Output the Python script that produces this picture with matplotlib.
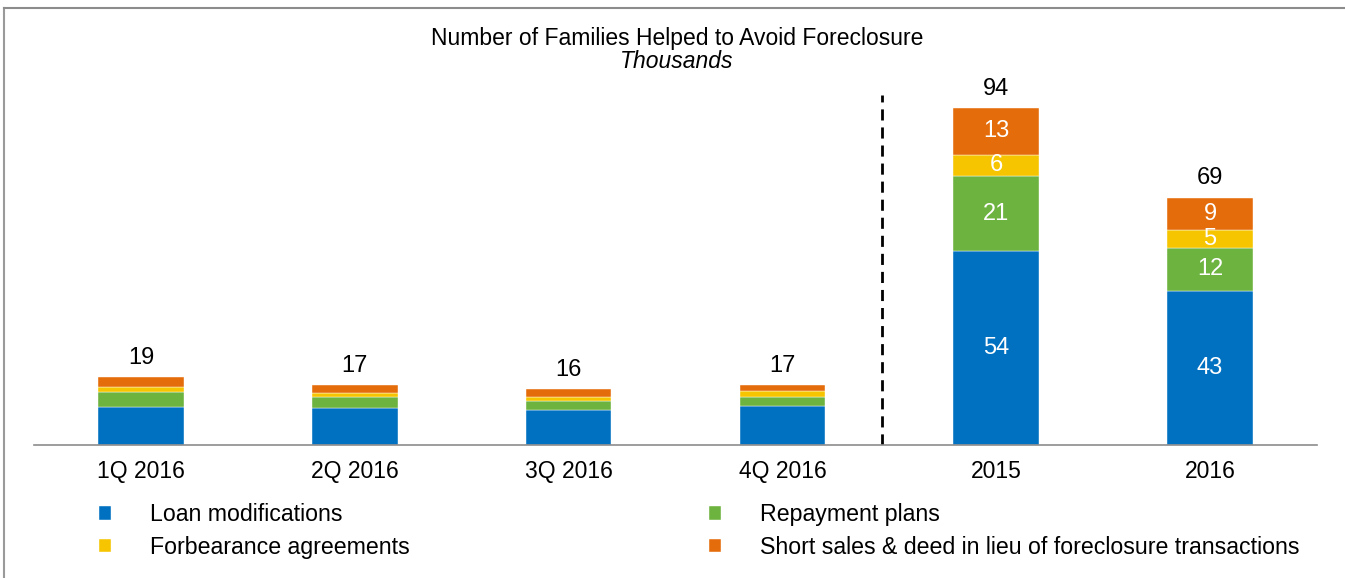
import numpy as np
import matplotlib
import matplotlib.pyplot as plt
from matplotlib.lines import Line2D
matplotlib.use('Agg')

plt.rcParams['font.family'] = ['Liberation Sans', 'DejaVu Sans']

periods = ['1Q 2016', '2Q 2016', '3Q 2016', '4Q 2016', '2015', '2016']
loan_mods = [10.6, 10.2, 9.8, 11.0, 54, 43]
repayment = [4.3, 3.2, 2.5, 2.5, 21, 12]
forbearance = [1.4, 1.1, 1.2, 1.5, 6, 5]
short_sales = [2.6, 2.1, 2.0, 1.8, 13, 9]
totals = ['19', '17', '16', '17', '94', '69']
# only the annual bars carry segment labels
seg_labels = [None, None, None, None,
              ['54', '21', '6', '13'], ['43', '12', '5', '9']]

series = [
    ('Loan modifications', loan_mods, '#0070C0'),
    ('Repayment plans', repayment, '#6DB33F'),
    ('Forbearance agreements', forbearance, '#F6C500'),
    ('Short sales & deed in lieu of foreclosure transactions', short_sales, '#E46C0A'),
]


def main():
    W, H = 1345, 578
    fig = plt.figure(figsize=(W / 100, H / 100), dpi=100)
    ax = fig.add_axes([34 / W, (H - 445) / H, (1317 - 34) / W, 350 / H])

    x = np.arange(len(periods))
    bottom = np.zeros(len(periods))
    handles = {}
    for name, vals, color in series:
        vals = np.array(vals, dtype=float)
        bars = ax.bar(x, vals, 0.4, bottom=bottom, color=color, label=name,
                      edgecolor='white', linewidth=0.3)
        handles[name] = bars
        bottom += vals

    # segment labels inside the annual bars
    for i, labs in enumerate(seg_labels):
        if labs is None:
            continue
        base = 0
        for (name, vals, color), lab in zip(series, labs):
            ax.text(x[i], base + vals[i] / 2, lab, ha='center', va='center',
                    color='white', fontsize=17)
            base += vals[i]

    for i, t in enumerate(totals):
        ax.text(x[i], bottom[i] + 2.3, t, ha='center', va='bottom',
                color='black', fontsize=17)

    ax.axvline(3.466, color='black', linestyle=(0, (4, 2.5)), linewidth=2)

    ax.set_xlim(-0.5, 5.5)
    ax.set_ylim(0, 97.6)
    ax.set_xticks(x)
    ax.set_xticklabels(periods, fontsize=16.5)
    ax.tick_params(axis='x', length=0, pad=11)
    ax.set_yticks([])
    for s in ['top', 'right', 'left']:
        ax.spines[s].set_visible(False)
    ax.spines['bottom'].set_color('#8c8c8c')
    ax.spines['bottom'].set_linewidth(1.2)

    fig.text(677 / W, 1 - 38 / H, 'Number of Families Helped to Avoid Foreclosure',
             ha='center', va='center', fontsize=16.5)
    fig.text(677 / W, 1 - 61 / H, 'Thousands', ha='center', va='center',
             fontsize=16.5, style='italic')

    order = ['Loan modifications', 'Forbearance agreements',
             'Repayment plans', 'Short sales & deed in lieu of foreclosure transactions']
    fig.legend([handles[n] for n in order], order, ncol=2, frameon=False,
               fontsize=16.7, loc='upper left', bbox_to_anchor=(90 / W, 1 - 494 / H),
               handlelength=0.5, handleheight=0.5, handletextpad=1.7,
               columnspacing=12.9, labelspacing=0.42, borderaxespad=0)

    # grey frame on the top and left edges only
    fig.add_artist(Line2D([4 / W, 4 / W], [0, 1 - 8 / H], transform=fig.transFigure,
                          color='#9a9a9a', linewidth=1.5))
    fig.add_artist(Line2D([4 / W, 1], [1 - 8 / H, 1 - 8 / H], transform=fig.transFigure,
                          color='#8c8c8c', linewidth=1.5))

    fig.savefig('out.png', dpi=100)


if __name__ == "__main__":
    main()
